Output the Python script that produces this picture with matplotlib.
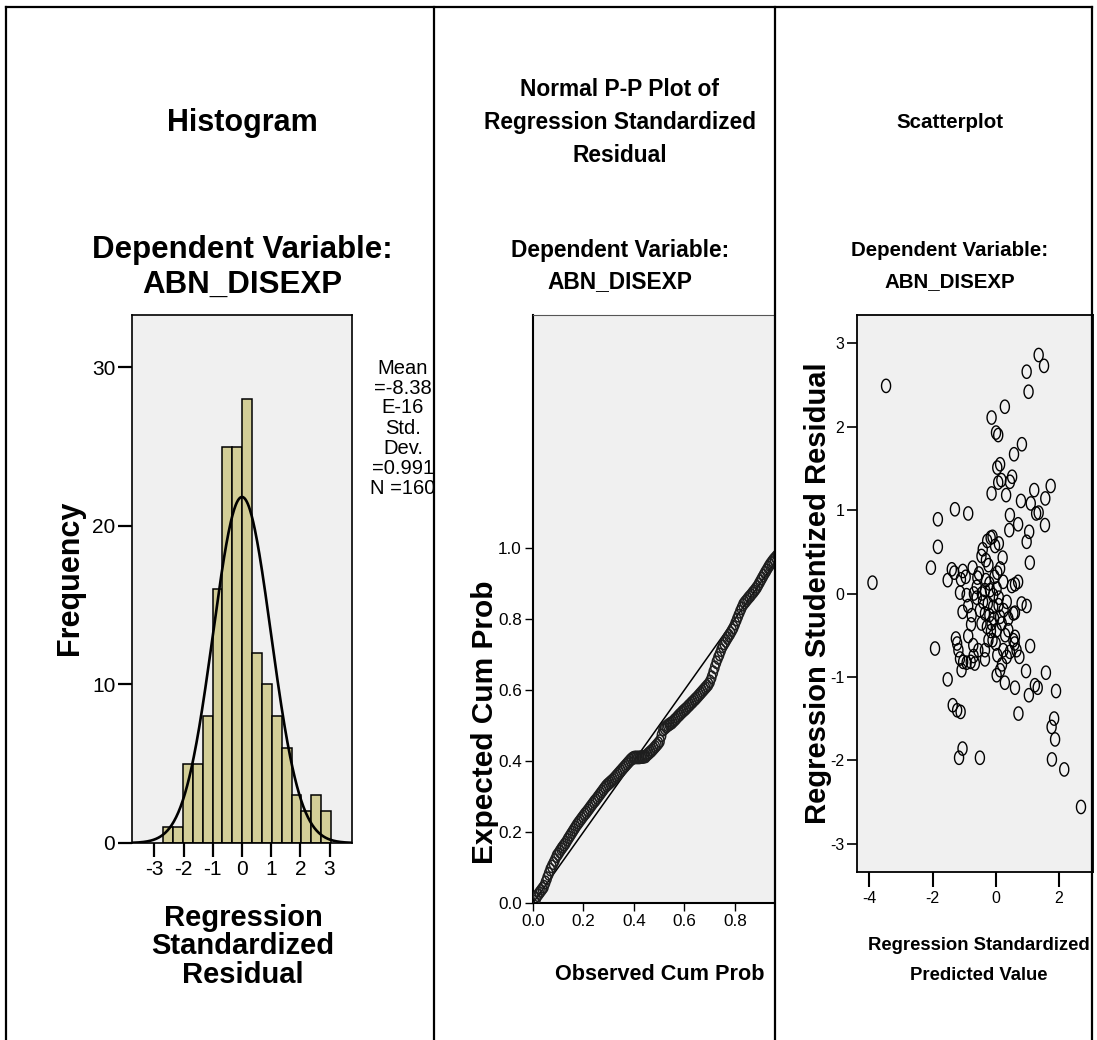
import math
import numpy as np
import matplotlib
matplotlib.use("Agg")
import matplotlib.pyplot as plt
from matplotlib.path import Path
from matplotlib import font_manager
from matplotlib.transforms import Bbox, TransformedBbox

plt.rcParams["axes.unicode_minus"] = False

# ---- data ----
bin_edges = [-2.71, -2.37, -2.03, -1.69, -1.35, -1.01, -0.67, -0.33, 0.0,
             0.34, 0.68, 1.02, 1.36, 1.70, 2.03, 2.37, 2.71, 3.05]
bin_counts = [1, 1, 5, 5, 8, 16, 25, 25, 28, 12, 10, 8, 6, 3, 2, 3, 2]
res_mean = -8.38e-16
res_sd = 0.991
res_n = 160
stats_lines = ["Mean", "=-8.38", "E-16", "Std.", "Dev.", "=0.991", "N =160"]

# expected cum prob for the sorted residuals (rank order)
exp_prob = [
    0.004, 0.012, 0.022, 0.028, 0.034, 0.040, 0.046, 0.058, 0.070, 0.082,
    0.094, 0.103, 0.112, 0.121, 0.132, 0.138, 0.145, 0.152, 0.158, 0.164,
    0.170, 0.178, 0.185, 0.192, 0.199, 0.206, 0.213, 0.220, 0.226, 0.232,
    0.238, 0.244, 0.250, 0.255, 0.261, 0.267, 0.273, 0.279, 0.285, 0.290,
    0.296, 0.302, 0.308, 0.314, 0.320, 0.326, 0.331, 0.335, 0.339, 0.343,
    0.347, 0.352, 0.357, 0.362, 0.367, 0.372, 0.377, 0.382, 0.387, 0.392,
    0.397, 0.402, 0.406, 0.409, 0.410, 0.410, 0.410, 0.410, 0.411, 0.411,
    0.412, 0.413, 0.418, 0.422, 0.426, 0.430, 0.435, 0.440, 0.445, 0.450,
    0.456, 0.472, 0.488, 0.492, 0.496, 0.500, 0.503, 0.506, 0.509, 0.514,
    0.518, 0.523, 0.528, 0.532, 0.537, 0.541, 0.545, 0.549, 0.554, 0.558,
    0.563, 0.567, 0.572, 0.576, 0.581, 0.586, 0.591, 0.596, 0.601, 0.606,
    0.611, 0.616, 0.624, 0.636, 0.650, 0.664, 0.678, 0.690, 0.700, 0.712,
    0.723, 0.731, 0.738, 0.746, 0.753, 0.760, 0.768, 0.776, 0.787, 0.798,
    0.809, 0.820, 0.830, 0.840, 0.846, 0.851, 0.857, 0.862, 0.867, 0.873,
    0.878, 0.884, 0.890, 0.898, 0.906, 0.914, 0.922, 0.930, 0.937, 0.945,
    0.952, 0.958, 0.964, 0.969, 0.974, 0.979, 0.985, 0.990, 0.995, 0.998]

# scatterplot: standardized predicted value vs studentized residual
pred_x = [-3.47, 1.36, 1.53, 0.98, 1.04, 0.29, -0.13, 0.01, 0.08, 0.83,
          0.58, 0.14, 0.05, 0.52, 0.45, 0.18, 0.08, 1.74, 1.22, -0.13,
          0.33, 1.57, 0.80, 1.11, 1.28, 1.36, 0.45, -1.29, -0.87, -1.83,
          1.56, 0.71, 0.43, 1.06, 0.98, -1.83, 1.08,
          -0.16, -0.27, -0.10, -0.02, -0.41, -0.31, 0.22, 0.14, -0.23, -1.39,
          -1.31, -1.04, -0.73, -1.52, -1.10, -0.53, -0.58, -0.31, -0.04, 0.24,
          0.51, 0.61, 0.71, -1.13, -0.92, -0.69, -0.44, -0.34, -0.18, 0.03,
          -0.08, -2.05, -3.90, 0.82, 0.98,
          -1.05, -0.87, -0.76, -0.78, -0.45, -0.34, -0.20, -0.08, 0.09, 0.14,
          -0.13, -0.28, 0.03, 0.19, 0.40, 0.56, 0.61, -0.87, -0.71, -0.55,
          -0.34, -0.23, -0.10, 0.05, 0.24, 0.35, 0.45, 0.56, 0.61, 0.66,
          0.75, 1.09, -1.92, -1.26, -1.22, -1.18, -1.13, -1.03, -0.92, -0.79,
          -0.66, -0.34, -1.08, 0.14, 0.03, 0.29, 0.61, 0.96, 1.59, 1.24,
          1.33, 1.05, 1.91, -1.52, -1.36, -1.22, -1.11, 0.72, 1.85, 1.77,
          1.88, -1.05, -1.16, -0.50, 1.78, 2.17, 2.70,
          -0.60, -0.40, -0.25, -0.05, 0.10, 0.25, 0.35, -0.50, -0.15, 0.00,
          0.30, -0.60, -0.20, 0.05, 0.40, 0.60, -0.95, -0.45, 0.10, -0.70,
          0.20]
stud_y = [2.49, 2.86, 2.73, 2.66, 2.42, 2.24, 2.11, 1.93, 1.90, 1.79,
          1.67, 1.55, 1.51, 1.40, 1.34, 1.36, 1.33, 1.29, 1.24, 1.20,
          1.18, 1.14, 1.11, 1.08, 0.96, 0.97, 0.94, 1.01, 0.96, 0.89,
          0.82, 0.83, 0.76, 0.74, 0.62, 0.56, 0.37,
          0.67, 0.63, 0.68, 0.57, 0.53, 0.40, 0.43, 0.30, 0.34, 0.29,
          0.25, 0.27, 0.31, 0.16, 0.17, 0.24, 0.19, 0.16, 0.20, 0.14,
          0.09, 0.11, 0.14, 0.01, -0.02, 0.00, 0.00, 0.04, 0.04, 0.06,
          -0.02, 0.31, 0.13, -0.12, -0.15,
          -0.22, -0.15, -0.26, -0.37, -0.36, -0.24, -0.26, -0.16, -0.14, -0.28,
          -0.36, -0.40, -0.44, -0.36, -0.44, -0.24, -0.23, -0.51, -0.62, -0.68,
          -0.68, -0.56, -0.56, -0.74, -0.68, -0.76, -0.70, -0.56, -0.52, -0.68,
          -0.76, -0.63, -0.66, -0.54, -0.60, -0.68, -0.78, -0.82, -0.83, -0.82,
          -0.84, -0.79, -0.92, -0.92, -0.98, -1.07, -1.13, -0.93, -0.95, -1.10,
          -1.13, -1.22, -1.17, -1.03, -1.34, -1.40, -1.42, -1.44, -1.50, -1.60,
          -1.75, -1.86, -1.97, -1.97, -1.99, -2.11, -2.56,
          -0.05, -0.10, -0.12, -0.30, -0.05, -0.20, -0.10, -0.20, -0.45, -0.60,
          -0.50, 0.08, 0.12, 0.25, -0.30, -0.60, 0.20, 0.45, 0.60, -0.75,
          -0.85]

# ---- fonts ----
have = {f.name for f in font_manager.fontManager.ttflist}
WIDE = ["Liberation Sans", "DejaVu Sans"]
if "Liberation Sans Narrow" in have:
    NARROW = ["Liberation Sans Narrow", "Liberation Sans", "DejaVu Sans"]
    nscale = 1.0
else:
    NARROW = WIDE
    nscale = 0.82

W, H = 1097, 1040
fig = plt.figure(figsize=(W / 100, H / 100), dpi=100)
fig.patch.set_facecolor("white")


def box(l, t, r, b):
    return [l / W, 1 - b / H, (r - l) / W, (b - t) / H]


def ftext(x, y, s, size, family, bold=True, rot=0, **kw):
    return fig.text(x / W, 1 - y / H, s, ha="center", va="center",
                    fontsize=size, family=family, rotation=rot,
                    fontweight="bold" if bold else "normal", **kw)


# ellipse marker (circles look slightly tall in the original)
t = np.linspace(0, 2 * np.pi, 61)
ell = Path(np.column_stack([0.68 * np.cos(t), np.sin(t)]))

BG = "#F0F0F0"

# ================= Histogram =================
ax1 = fig.add_axes(box(132, 315, 352, 843))
ax1.set_facecolor(BG)
edges = np.array(bin_edges)
ax1.bar(edges[:-1], bin_counts, width=np.diff(edges), align="edge",
        color="#D3CE97", edgecolor="black", linewidth=1.1, zorder=2)
bw = np.mean(np.diff(edges))
xs = np.linspace(-3.77, 3.77, 400)
ys = res_n * bw * np.exp(-0.5 * ((xs - res_mean) / res_sd) ** 2) / (res_sd * math.sqrt(2 * math.pi))
ax1.plot(xs, ys, color="black", lw=1.9, zorder=3)
ax1.set_xlim(-3.77, 3.77)
ax1.set_ylim(0, 33.3)
ax1.set_xticks([-3, -2, -1, 0, 1, 2, 3])
ax1.set_yticks([0, 10, 20, 30])
ax1.tick_params(direction="out", length=10, width=1.6, labelsize=15, pad=2)
for lab in ax1.get_xticklabels() + ax1.get_yticklabels():
    lab.set_family(WIDE)
for sp in ax1.spines.values():
    sp.set_linewidth(1.2)

ftext(242, 123, "Histogram", 22, WIDE)
ftext(242, 250, "Dependent Variable:", 22.5, WIDE)
ftext(242, 285, "ABN_DISEXP", 22.5, WIDE)
ftext(70, 578, "Frequency", 22, WIDE, rot=90)
for yy, s in zip([918, 946, 975], ["Regression", "Standardized", "Residual"]):
    ftext(243, yy, s, 21, WIDE)

clip = TransformedBbox(Bbox([[0, 0], [433 / W, 1]]), fig.transFigure)
for i, s in enumerate(stats_lines):
    tx = ftext(403, 368 + 20 * i, s, 14.5, WIDE, bold=False)
    tx.set_clip_box(clip)
    tx.set_clip_on(True)

# ================= Normal P-P plot =================
ax2 = fig.add_axes(box(533, 315, 774, 903))
ax2.set_facecolor(BG)
obs = np.arange(1, res_n + 1) / (res_n + 1)
ax2.plot([0, 1], [0, 1], color="black", lw=1.1, zorder=2)
ax2.scatter(obs, exp_prob, s=78, marker=ell, facecolors="none",
            edgecolors="#1e1e1e", linewidths=1.1, zorder=3)
ax2.set_xlim(0, 0.955)
ax2.set_ylim(0, 1.656)
ax2.set_xticks([0, 0.2, 0.4, 0.6, 0.8])
ax2.set_xticklabels(["0.0", "0.2", "0.4", "0.6", "0.8"])
ax2.set_yticks([0, 0.2, 0.4, 0.6, 0.8, 1.0])
ax2.set_yticklabels(["0.0", "0.2", "0.4", "0.6", "0.8", "1.0"])
ax2.tick_params(direction="out", length=6, width=1.0, labelsize=15 * nscale, pad=2)
for lab in ax2.get_xticklabels() + ax2.get_yticklabels():
    lab.set_family(NARROW)
ax2.spines["left"].set_linewidth(1.5)
ax2.spines["bottom"].set_linewidth(1.5)
ax2.spines["top"].set_linewidth(0.8)
ax2.spines["top"].set_color("#555555")
ax2.spines["right"].set_visible(False)

for yy, s in zip([90, 123, 155], ["Normal P-P Plot of", "Regression Standardized", "Residual"]):
    ftext(620, yy, s, 20 * nscale, NARROW)
ftext(620, 250, "Dependent Variable:", 20 * nscale, NARROW)
ftext(620, 282, "ABN_DISEXP", 20 * nscale, NARROW)
ftext(485, 722, "Expected Cum Prob", 21.5, WIDE, rot=90)
ftext(660, 975, "Observed Cum Prob", 19 * nscale, NARROW)

# ================= Scatterplot =================
ax3 = fig.add_axes(box(857, 315, 1093, 872))
ax3.set_facecolor(BG)
ax3.scatter(pred_x, stud_y, s=92, marker=ell, facecolors="none",
            edgecolors="black", linewidths=1.0, zorder=3)
ax3.set_xlim(-4.39, 3.08)
ax3.set_ylim(-3.34, 3.34)
ax3.set_xticks([-4, -2, 0, 2])
ax3.set_yticks([-3, -2, -1, 0, 1, 2, 3])
ax3.tick_params(axis="x", direction="out", length=11, width=1.5, labelsize=14 * nscale, pad=3)
ax3.tick_params(axis="y", direction="out", length=7, width=1.2, labelsize=14 * nscale, pad=2)
for lab in ax3.get_xticklabels() + ax3.get_yticklabels():
    lab.set_family(NARROW)
for sp in ax3.spines.values():
    sp.set_linewidth(1.3)

ftext(950, 123, "Scatterplot", 18 * nscale, NARROW)
ftext(950, 250, "Dependent Variable:", 18 * nscale, NARROW)
ftext(950, 282, "ABN_DISEXP", 18 * nscale, NARROW)
ftext(818, 593, "Regression Studentized Residual", 21, WIDE, rot=90)
ftext(979, 946, "Regression Standardized", 16.2 * nscale, NARROW)
ftext(979, 975, "Predicted Value", 16.2 * nscale, NARROW)

# ================= panel frame =================
for x in [6, 434, 775, 1092]:
    fig.add_artist(plt.Line2D([x / W, x / W], [0, 1 - 7 / H], color="black",
                              lw=1.6, transform=fig.transFigure, zorder=10))
fig.add_artist(plt.Line2D([6 / W, 1092 / W], [1 - 7 / H, 1 - 7 / H], color="black",
                          lw=1.6, transform=fig.transFigure, zorder=10))

fig.savefig("out.png", dpi=100, facecolor="white")
